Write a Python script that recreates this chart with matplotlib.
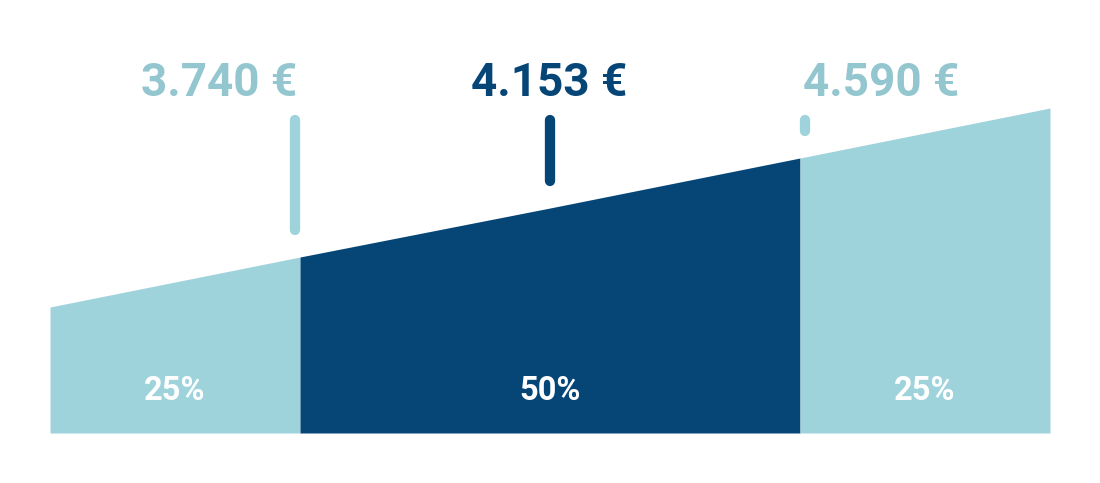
"""Salary distribution ramp: quartiles with share labels."""

import matplotlib.pyplot as plt
import matplotlib.transforms as mtransforms

# Data
shares = [25, 50, 25]                      # percent of people per band
bounds = [0, 25, 50, 75, 100]              # cumulative percent
ramp = [126, 176, 225, 275, 325]           # ramp height at each bound
quartile_pos = [25, 50, 75]
quartile_values = ["3.740 €", "4.153 €", "4.590 €"]
share_labels = ["25%", "50%", "25%"]

LIGHT = "#9fd3dc"
LIGHT_TEXT = "#93c6cf"
DARK = "#054677"
band_colors = [LIGHT, DARK, LIGHT]
value_colors = [LIGHT_TEXT, DARK, LIGHT_TEXT]
line_colors = [LIGHT, DARK, LIGHT]

plt.rcParams["font.family"] = ["Roboto", "DejaVu Sans"]

fig = plt.figure(figsize=(11, 4.83), dpi=100)
ax = fig.add_axes([0, 0, 1, 1])
ax.set_xlim(-5, 105)
ax.set_ylim(-50, 433)
ax.axis("off")

# bands
band_edges = [(0, 1), (1, 3), (3, 4)]
for (i0, i1), color, label in zip(band_edges, band_colors, share_labels):
    xs = bounds[i0:i1 + 1]
    ys = ramp[i0:i1 + 1]
    ax.fill_between(xs, 0, ys, color=color, linewidth=0)
    ax.text((xs[0] + xs[-1]) / 2, 33, label, ha="center", va="baseline",
            color="white", fontsize=23.5, fontweight="bold")

# quartile markers and values
offsets_px = [-5, 0, 5]
text_align = ["right", "center", "left"]
text_shift_px = [-3, -1, 3]
for pos, val, lc, vc, dx, ha, tdx in zip(quartile_pos, quartile_values,
                                         line_colors, value_colors,
                                         offsets_px, text_align, text_shift_px):
    base = ramp[bounds.index(pos)]
    shift = mtransforms.offset_copy(ax.transData, fig=fig, x=dx / 100, y=0,
                                    units="inches")
    ax.plot([pos, pos], [base + 27, 313], color=lc, linewidth=7.4,
            solid_capstyle="round", transform=shift)
    tshift = mtransforms.offset_copy(ax.transData, fig=fig, x=tdx / 100, y=0,
                                     units="inches")
    ax.text(pos, 337, val, ha=ha, va="baseline", color=vc, fontsize=33,
            fontweight="bold", transform=tshift)

fig.savefig("out.png", dpi=100, facecolor="white")
plt.close(fig)
